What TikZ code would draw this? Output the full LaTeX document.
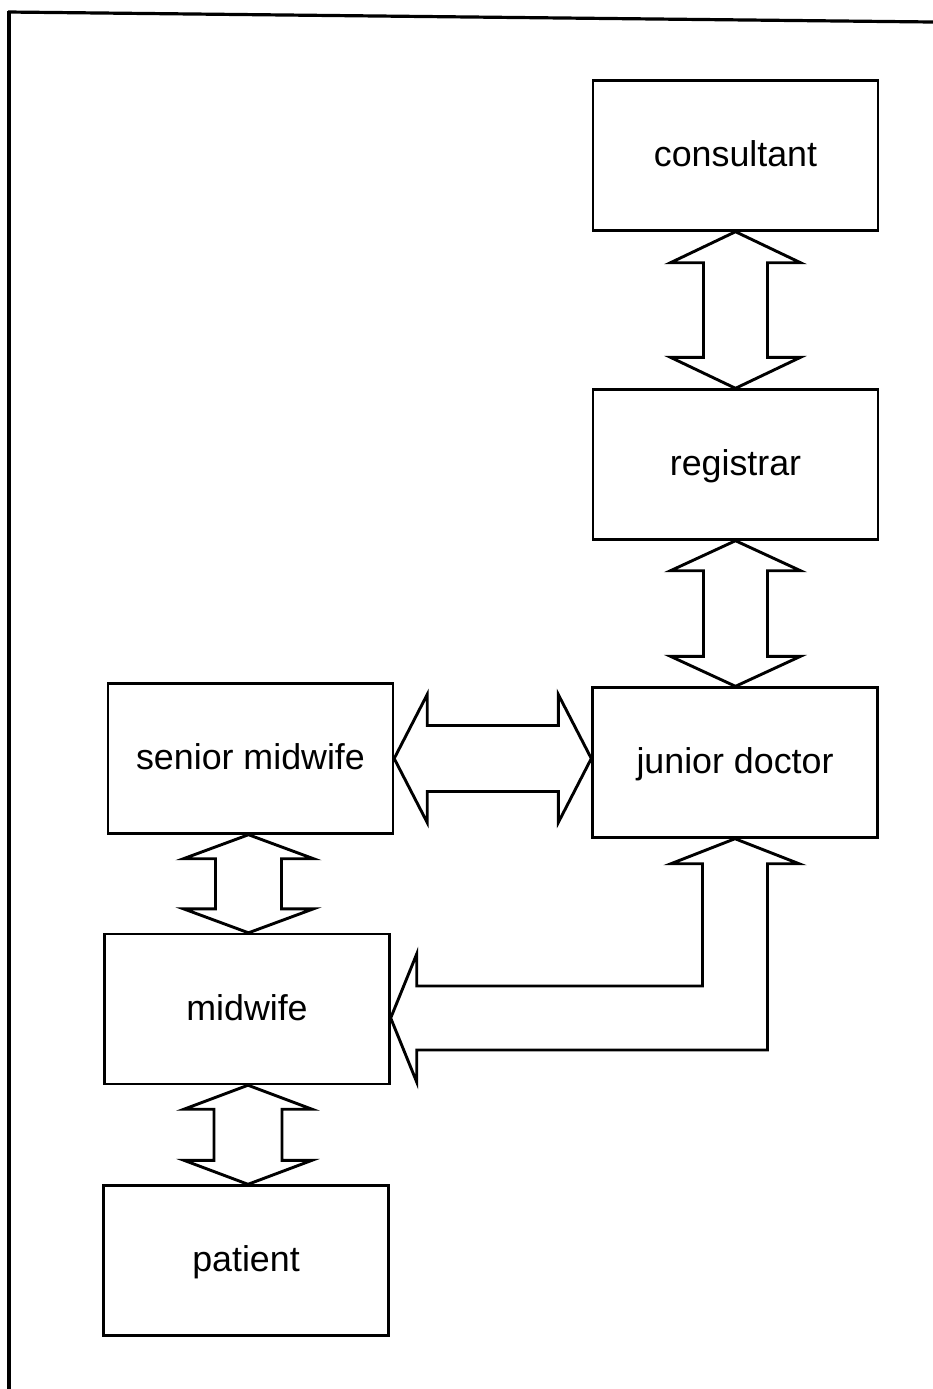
\documentclass[tikz,border=0pt]{standalone}
\usepackage{fontspec}
\setmainfont{Liberation Sans}
\usetikzlibrary{calc}

% Vertical two-headed block arrow between tips #1 (top) and #2 (bottom);
% #3 head length, #4 head half-width, #5 shaft half-width
\newcommand{\vdblarrow}[5]{%
  \draw[blockarrow] (#1) -- ($(#1)+(#4,#3)$) -- ($(#1)+(#5,#3)$)
    -- ($(#2)+(#5,-#3)$) -- ($(#2)+(#4,-#3)$) -- (#2)
    -- ($(#2)+(-#4,-#3)$) -- ($(#2)+(-#5,-#3)$)
    -- ($(#1)+(-#5,#3)$) -- ($(#1)+(-#4,#3)$) -- cycle;}
% Horizontal two-headed block arrow between tips #1 (left) and #2 (right)
\newcommand{\hdblarrow}[5]{%
  \draw[blockarrow] (#1) -- ($(#1)+(#3,-#4)$) -- ($(#1)+(#3,-#5)$)
    -- ($(#2)+(-#3,-#5)$) -- ($(#2)+(-#3,-#4)$) -- (#2)
    -- ($(#2)+(-#3,#4)$) -- ($(#2)+(-#3,#5)$)
    -- ($(#1)+(#3,#5)$) -- ($(#1)+(#3,#4)$) -- cycle;}

\tikzset{
  role/.style={draw, line width=1.2pt, rectangle, inner sep=0pt,
    minimum width=142.5pt, minimum height=75pt,
    font=\fontsize{17.9pt}{21pt}\selectfont, text height=11pt, text depth=0pt},
  blockarrow/.style={draw, line width=1.45pt, line join=miter, fill=white},
  frameline/.style={line width=1.6pt}
}

\begin{document}
\begin{tikzpicture}[x=0.5pt, y=-0.5pt]
  \useasboundingbox (0,0) rectangle (933,1389);

  % page frame (top and left edges)
  \draw[frameline] (8,12) -- (933,22);
  \draw[frameline] (9,11) -- (9,1389);

  % boxes
  \node[role] (cons) at (735.5,155.5) {consultant};
  \node[role] (reg)  at (735.5,464.5) {registrar};
  \node[role] (jd)   at (735,762.5)   {junior doctor};
  \node[role] (sm)   at (250.5,758.5) {senior midwife};
  \node[role] (mw)   at (247,1009)    {midwife};
  \node[role] (pt)   at (246,1260.5)  {patient};

  % tips of the block arrows
  \coordinate (cR) at (cons.south);
  \coordinate (rT) at (cons.south |- reg.north);
  \coordinate (rB) at (reg.south);
  \coordinate (jT) at (reg.south |- jd.north);
  \coordinate (sB) at ($(sm.south)+(-2,0)$);
  \coordinate (mT) at (sB |- mw.north);
  \coordinate (mB) at ($(mw.south)+(1,0)$);
  \coordinate (pT) at (mB |- pt.north);
  \coordinate (smR) at (sm.east);
  \coordinate (jdL) at (sm.east -| jd.west);

  % two-headed block arrows
  \vdblarrow{cR}{rT}{31}{65}{32}
  \vdblarrow{rB}{jT}{30}{65}{32}
  \vdblarrow{sB}{mT}{24}{65}{33}
  \vdblarrow{mB}{pT}{24}{64}{34}
  \hdblarrow{smR}{jdL}{33}{64}{33}

  % elbow block arrow from junior doctor round to midwife
  \coordinate (up) at (jd.south);
  \coordinate (lt) at ($(mw.east)+(0,9)$);
  \draw[blockarrow] (up) -- ($(up)+(64,25)$) -- ($(up)+(32.5,25)$)
    -- ($(up |- lt)+(32.5,32)$) -- ($(lt)+(26,32)$) -- ($(lt)+(26,64)$)
    -- (lt)
    -- ($(lt)+(26,-64)$) -- ($(lt)+(26,-32)$) -- ($(up |- lt)+(-32.5,-32)$)
    -- ($(up)+(-32.5,25)$) -- ($(up)+(-64,25)$) -- cycle;
\end{tikzpicture}
\end{document}
